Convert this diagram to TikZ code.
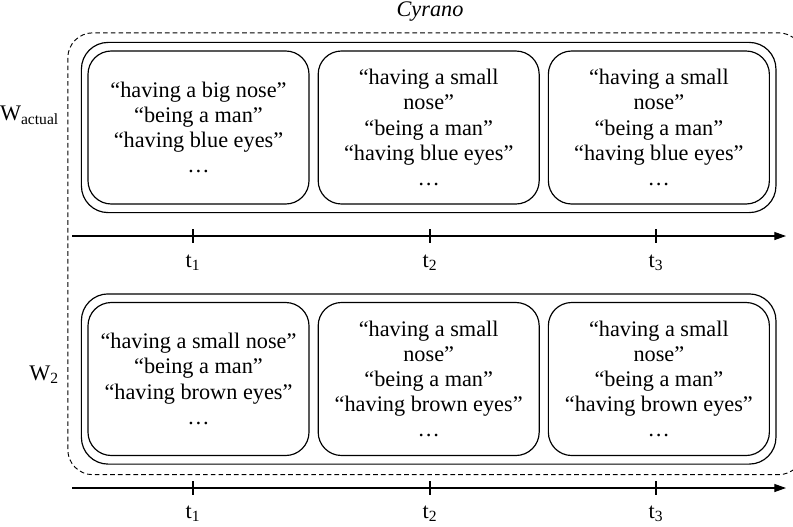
\documentclass[tikz,border=0pt]{standalone}
\usepackage{fontspec}
\setmainfont{Liberation Serif}
\usetikzlibrary{positioning, fit, calc, arrows.meta}

\begin{document}
\begin{tikzpicture}
	[x=0.03cm, y=-0.03cm,									%1 unit = 1 px of the layout, y downwards
	 every node/.style={font=\rmfamily\fontsize{19}{21.5}\selectfont},
	 StateBox/.style={draw, line width=1pt, rounded corners=0.7cm, minimum width=6.63cm, minimum height=4.59cm, align=center, inner sep=0pt},
	 RowBox/.style={draw, line width=1pt, rounded corners=0.8cm, inner xsep=0.18cm, inner ysep=0.24cm},
	 WorldBox/.style={draw, line width=0.8pt, dash pattern=on 4pt off 2.6pt, rounded corners=0.75cm},
	 TimeAxis/.style={-{Triangle[length=0.35cm, width=0.24cm]}, line width=1pt},
	 TickMark/.style={line width=1pt}
	]
	
	\clip (0,0) rectangle (793,526);		%page = 793 x 526 px
	
	\def\TickLen{7};		%half length of a tick mark
	
	%States in the actual world
	\node[StateBox] (sA1) at (198.5,127.5) {“having a big nose”\\“being a man”\\“having blue eyes”\\\dots};
	\node[StateBox, right=0.24cm of sA1] (sA2) {“having a small\\nose”\\“being a man”\\“having blue eyes”\\\dots};
	\node[StateBox, right=0.24cm of sA2] (sA3) {“having a small\\nose”\\“being a man”\\“having blue eyes”\\\dots};
	\node[RowBox, fit=(sA1)(sA3)] (rowA) {};
	
	%States in world 2
	\node[StateBox] (sB1) at (198.5,379) {“having a small nose”\\“being a man”\\“having brown eyes”\\\dots};
	\node[StateBox, right=0.24cm of sB1] (sB2) {“having a small\\nose”\\“being a man”\\“having brown eyes”\\\dots};
	\node[StateBox, right=0.24cm of sB2] (sB3) {“having a small\\nose”\\“being a man”\\“having brown eyes”\\\dots};
	\node[RowBox, fit=(sB1)(sB3)] (rowB) {};
	
	%Individual: dashed box round both worlds
	\draw[WorldBox] ($(rowA.north west)+(-13,-9)$) rectangle ($(rowB.south east)+(27,10)$);
	\node (cyrano) at (430,12) {\itshape Cyrano};
	
	\node[anchor=east] (wA) at (63,115) {W\textsubscript{actual}};
	\node[anchor=east] (wB) at (63,375) {W\textsubscript{2}};
	
	%Time axes
	\coordinate (axA0) at (72,236);
	\coordinate (axA1) at (786,236);
	\coordinate (axB0) at (72,488);
	\coordinate (axB1) at (786,488);
	\draw[TimeAxis] (axA0) -- (axA1);
	\draw[TimeAxis] (axB0) -- (axB1);
	
	\foreach \x/\i in {193/1, 430/2, 656/3}
	{
		\draw[TickMark] (\x,236-\TickLen) -- (\x,236+\TickLen);
		\node (tA\i) at (\x,263) {t\textsubscript{\i}};
		\draw[TickMark] (\x,488-\TickLen) -- (\x,488+\TickLen);
		\node (tB\i) at (\x,514) {t\textsubscript{\i}};
	}
	
\end{tikzpicture}
\end{document}
